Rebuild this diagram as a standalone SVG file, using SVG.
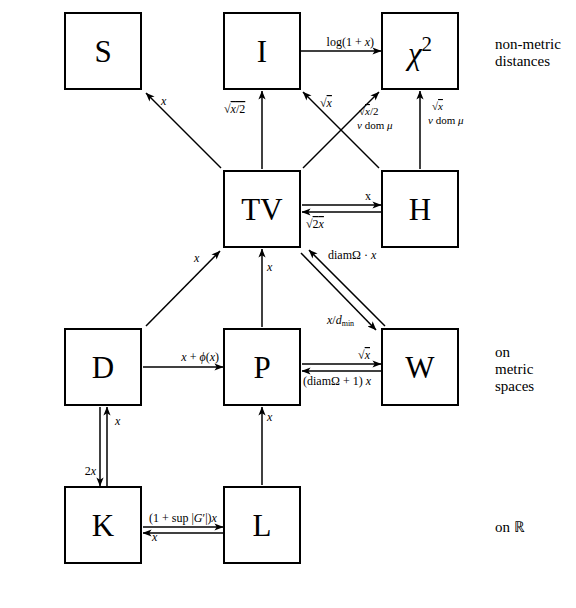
<svg xmlns="http://www.w3.org/2000/svg" width="576" height="608" viewBox="0 0 576 608">
<style>
.box{fill:#fff;stroke:#000;stroke-width:2}
.nl{font-family:"Liberation Serif",serif;font-size:31px;text-anchor:middle;fill:#000}
.c{stroke:#000;stroke-width:1.5;fill:none;marker-end:url(#ah)}
.lb{font-family:"Liberation Serif",serif;font-size:12px;fill:#000}
.sm{font-size:11px}
.e{text-anchor:end}
.i{font-style:italic}
.ov{text-decoration:overline}
.side{font-family:"Liberation Serif",serif;font-size:15px;fill:#000}
</style>
<defs>
<marker id="ah" viewBox="0 0 10 8" refX="9.5" refY="4" markerWidth="9" markerHeight="7.2" orient="auto" markerUnits="userSpaceOnUse">
<path d="M0,0 L10,4 L0,8 L2.5,4 z" fill="#000"/>
</marker>
</defs>
<rect width="576" height="608" fill="#fff"/>

<g id="S"><rect class="box" x="65" y="13" width="76" height="76"/><text class="nl" x="103" y="62">S</text></g>
<g id="I"><rect class="box" x="224" y="13" width="76" height="76"/><text class="nl" x="262" y="62">I</text></g>
<g id="chi2"><rect class="box" x="382" y="13" width="76" height="76"/><text class="nl" x="420" y="64"><tspan class="i">χ</tspan><tspan font-size="21" dy="-13">2</tspan></text></g>
<g id="TV"><rect class="box" x="224" y="171" width="76" height="76"/><text class="nl" x="262" y="220">TV</text></g>
<g id="H"><rect class="box" x="382" y="171" width="76" height="76"/><text class="nl" x="420" y="220">H</text></g>
<g id="D"><rect class="box" x="65" y="329" width="76" height="76"/><text class="nl" x="103" y="378">D</text></g>
<g id="P"><rect class="box" x="224" y="329" width="76" height="76"/><text class="nl" x="262" y="378">P</text></g>
<g id="W"><rect class="box" x="382" y="329" width="76" height="76"/><text class="nl" x="420" y="378">W</text></g>
<g id="K"><rect class="box" x="65" y="487" width="76" height="76"/><text class="nl" x="103" y="536">K</text></g>
<g id="L"><rect class="box" x="224" y="487" width="76" height="76"/><text class="nl" x="262" y="536">L</text></g>

<g id="connectors">
<line class="c" x1="301" y1="51" x2="381" y2="51"/>
<line class="c" x1="221" y1="168" x2="146" y2="93"/>
<line class="c" x1="262" y1="169" x2="262" y2="91"/>
<line class="c" x1="303" y1="168" x2="379" y2="92"/>
<line class="c" x1="379" y1="168" x2="303" y2="92"/>
<line class="c" x1="420" y1="169" x2="420" y2="91"/>
<line class="c" x1="302" y1="205" x2="381" y2="205"/>
<line class="c" x1="381" y1="212" x2="302" y2="212"/>
<line class="c" x1="146" y1="326" x2="220" y2="251"/>
<line class="c" x1="262" y1="327" x2="262" y2="249"/>
<line class="c" x1="301" y1="253" x2="376" y2="330"/>
<line class="c" x1="385" y1="326" x2="309" y2="250"/>
<line class="c" x1="143" y1="367" x2="223" y2="367"/>
<line class="c" x1="302" y1="364" x2="381" y2="364"/>
<line class="c" x1="381" y1="371" x2="302" y2="371"/>
<line class="c" x1="100" y1="407" x2="100" y2="486"/>
<line class="c" x1="107" y1="486" x2="107" y2="407"/>
<line class="c" x1="262" y1="485" x2="262" y2="407"/>
<line class="c" x1="143" y1="527" x2="223" y2="527"/>
<line class="c" x1="223" y1="533" x2="143" y2="533"/>
</g>

<g id="labels">
<text class="lb e" x="374" y="46">log(1 + <tspan class="i">x</tspan>)</text>
<text class="lb i" x="161" y="105">x</text>
<text class="lb" x="224" y="113">√<tspan class="i ov">x</tspan><tspan class="ov">/2</tspan></text>
<text class="lb" x="320" y="107">√<tspan class="i ov">x</tspan></text>
<text class="lb sm" x="359" y="115">√<tspan class="i ov">x</tspan>/2</text>
<text class="lb sm" x="357" y="129"><tspan class="i">ν</tspan> dom <tspan class="i">μ</tspan></text>
<text class="lb sm" x="432" y="110">√<tspan class="i ov">x</tspan></text>
<text class="lb sm" x="428" y="124"><tspan class="i">ν</tspan> dom <tspan class="i">μ</tspan></text>
<text class="lb e" x="371" y="200">x</text>
<text class="lb" x="306" y="228">√<tspan class="ov">2</tspan><tspan class="i ov">x</tspan></text>
<text class="lb i" x="194" y="262">x</text>
<text class="lb i" x="267" y="271">x</text>
<text class="lb" x="328" y="259">diamΩ · <tspan class="i">x</tspan></text>
<text class="lb" x="327" y="324"><tspan class="i">x</tspan>/<tspan class="i">d</tspan><tspan font-size="8" dy="2">min</tspan></text>
<text class="lb e" x="219" y="361"><tspan class="i">x</tspan> + <tspan class="i">ϕ</tspan>(<tspan class="i">x</tspan>)</text>
<text class="lb e" x="370" y="359">√<tspan class="i ov">x</tspan></text>
<text class="lb" x="303" y="385">(diamΩ + 1) <tspan class="i">x</tspan></text>
<text class="lb e" x="96" y="475">2<tspan class="i">x</tspan></text>
<text class="lb i" x="115" y="425">x</text>
<text class="lb i" x="267" y="421">x</text>
<text class="lb" x="149" y="522">(1 + sup |<tspan class="i">G</tspan>′|)<tspan class="i">x</tspan></text>
<text class="lb i" x="152" y="541">x</text>
</g>

<g id="side">
<text class="side" x="495" y="49">non-metric</text>
<text class="side" x="495" y="66">distances</text>
<text class="side" x="495" y="357">on</text>
<text class="side" x="495" y="374">metric</text>
<text class="side" x="495" y="391">spaces</text>
<text class="side" x="495" y="532">on ℝ</text>
</g>
</svg>
